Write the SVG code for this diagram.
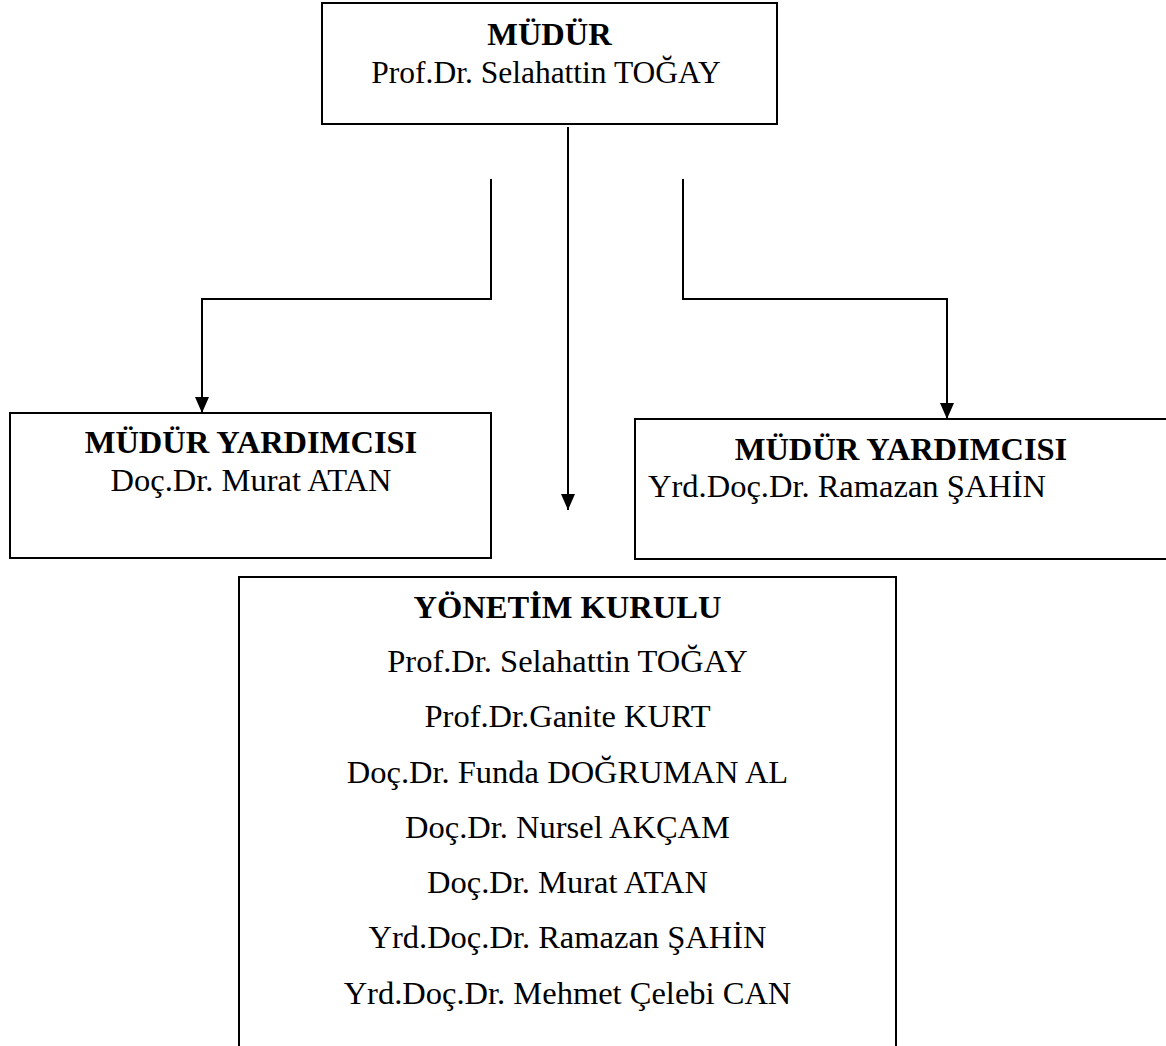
<svg xmlns="http://www.w3.org/2000/svg" width="1166" height="1046" viewBox="0 0 1166 1046">
<defs>
<style>
.box{fill:#fff;stroke:#000;stroke-width:2}
.t{font-family:"Liberation Serif","Times New Roman",serif;font-size:32.5px;fill:#000}
.s{font-size:31.5px}
.b{font-weight:bold}
.c{text-anchor:middle}
.conn{fill:none;stroke:#000;stroke-width:2}
</style>
<marker id="arr" markerUnits="userSpaceOnUse" markerWidth="16" markerHeight="14" viewBox="0 0 16 14" refX="16" refY="7" orient="auto">
<path d="M0,0 L16,7 L0,14 Z" fill="#000"/>
</marker>
</defs>
<rect width="1166" height="1046" fill="#fff"/>
<g id="connectors">
<path class="conn" d="M568,127 V510" marker-end="url(#arr)"/>
<path class="conn" d="M491,179 V299 H202 V413" marker-end="url(#arr)"/>
<path class="conn" d="M683,179 V299 H947 V419" marker-end="url(#arr)"/>
</g>
<g id="mudur">
<rect class="box" x="322" y="3" width="455" height="121"/>
<text class="t b c" x="549.5" y="45">MÜDÜR</text>
<text class="t s c" x="546" y="83">Prof.Dr. Selahattin TOĞAY</text>
</g>
<g id="mudur-yardimcisi-1">
<rect class="box" x="10" y="413" width="481" height="145"/>
<text class="t b c" x="251" y="453">MÜDÜR YARDIMCISI</text>
<text class="t c" x="251" y="491">Doç.Dr. Murat ATAN</text>
</g>
<g id="mudur-yardimcisi-2">
<rect class="box" x="635" y="419" width="560" height="140"/>
<text class="t b c" x="901" y="460">MÜDÜR YARDIMCISI</text>
<text class="t" x="648" y="497">Yrd.Doç.Dr. Ramazan ŞAHİN</text>
</g>
<g id="yonetim-kurulu">
<rect class="box" x="239" y="577" width="657" height="500"/>
<text class="t b c" x="567.5" y="618">YÖNETİM KURULU</text>
<text class="t c" x="567.5" y="672">Prof.Dr. Selahattin TOĞAY</text>
<text class="t c" x="567.5" y="727">Prof.Dr.Ganite KURT</text>
<text class="t c" x="567.5" y="783">Doç.Dr. Funda DOĞRUMAN AL</text>
<text class="t c" x="567.5" y="838">Doç.Dr. Nursel AKÇAM</text>
<text class="t c" x="567.5" y="893">Doç.Dr. Murat ATAN</text>
<text class="t c" x="567.5" y="948">Yrd.Doç.Dr. Ramazan ŞAHİN</text>
<text class="t c" x="567.5" y="1004">Yrd.Doç.Dr. Mehmet Çelebi CAN</text>
</g>
</svg>
